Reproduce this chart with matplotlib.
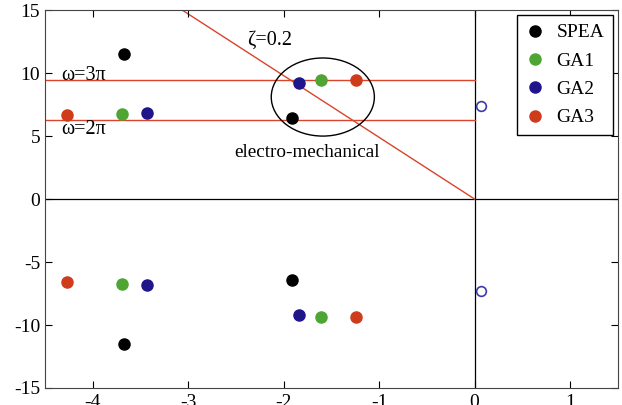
import numpy as np
import matplotlib
matplotlib.use('Agg')
import matplotlib.pyplot as plt
from matplotlib.patches import Ellipse

# Valores propios (parte real, parte imaginaria) de cada método
spea_re = [-3.67, -1.91, -3.67, -1.91]
spea_im = [11.5, 6.45, -11.5, -6.45]
ga1_re = [-3.69, -1.61, -3.69, -1.61]
ga1_im = [6.75, 9.42, -6.75, -9.35]
ga2_re = [-3.43, -1.84, -3.43, -1.84]
ga2_im = [6.8, 9.25, -6.8, -9.2]
ga3_re = [-4.27, -1.24, -4.27, -1.24]
ga3_im = [6.65, 9.42, -6.6, -9.4]
open_re = [0.07, 0.07]
open_im = [7.4, -7.3]

zeta = 0.2
omegas = [3 * np.pi, 2 * np.pi]
omega_labels = ['ω=3π', 'ω=2π']

plt.rcParams['font.family'] = ['Liberation Serif', 'DejaVu Serif']
plt.rcParams['axes.unicode_minus'] = False

fig = plt.figure(figsize=(6.22, 4.05), dpi=100)
ax = fig.add_axes([0.0723, 0.042, 0.921, 0.933])

red = '#d9442a'
ax.axhline(0, color='black', lw=0.9, zorder=1)
ax.axvline(0, color='black', lw=0.9, zorder=1)
for w in omegas:
    ax.plot([-4.5, 0], [w, w], color=red, lw=1.0, zorder=1)

# linea de amortiguamiento zeta=0.2
xs = np.array([-3.2, 0])
ax.plot(xs, -xs * np.sqrt(1 - zeta**2) / zeta, color=red, lw=1.0, zorder=1)

ax.add_patch(Ellipse((-1.59, 8.1), 1.08, 6.2, fill=False, color='black', lw=1.0))

ms = 8
ax.plot(spea_re, spea_im, 'o', color='black', ms=ms, label='SPEA', zorder=3)
ax.plot(ga1_re, ga1_im, 'o', color='#4ea534', ms=ms, label='GA1', zorder=3)
ax.plot(ga2_re, ga2_im, 'o', color='#1f168a', ms=ms, label='GA2', zorder=3)
ax.plot(ga3_re, ga3_im, 'o', color='#cf3c1c', ms=ms, label='GA3', zorder=3)
ax.plot(open_re, open_im, 'o', mfc='white', mec='#3c3aa8', mew=1.2, ms=7, zorder=3)

ax.text(-2.38, 12.6, 'ζ=0.2', fontsize=14.5, va='center')
ax.text(-4.33, 9.8, omega_labels[0], fontsize=14.5, va='center')
ax.text(-4.33, 5.55, omega_labels[1], fontsize=14.5, va='center')
ax.text(-1.76, 3.7, 'electro-mechanical', fontsize=13.8, va='center', ha='center')

ax.set_xlim(-4.5, 1.5)
ax.set_ylim(-15, 15)
ax.set_xticks([-4, -3, -2, -1, 0, 1])
ax.set_yticks([-15, -10, -5, 0, 5, 10, 15])
ax.tick_params(direction='in', top=True, right=True, labelsize=14, length=5)
ax.tick_params(axis='x', pad=4)
for s in ax.spines.values():
    s.set_color('#444444')

leg = ax.legend(loc='upper right', fontsize=14, fancybox=False, edgecolor='black',
                framealpha=1, handlelength=1.0, handletextpad=0.6, borderpad=0.45,
                labelspacing=0.55, borderaxespad=0, bbox_to_anchor=(0.992, 0.987))
leg.get_frame().set_linewidth(1.0)

plt.savefig('out.png', dpi=100)
